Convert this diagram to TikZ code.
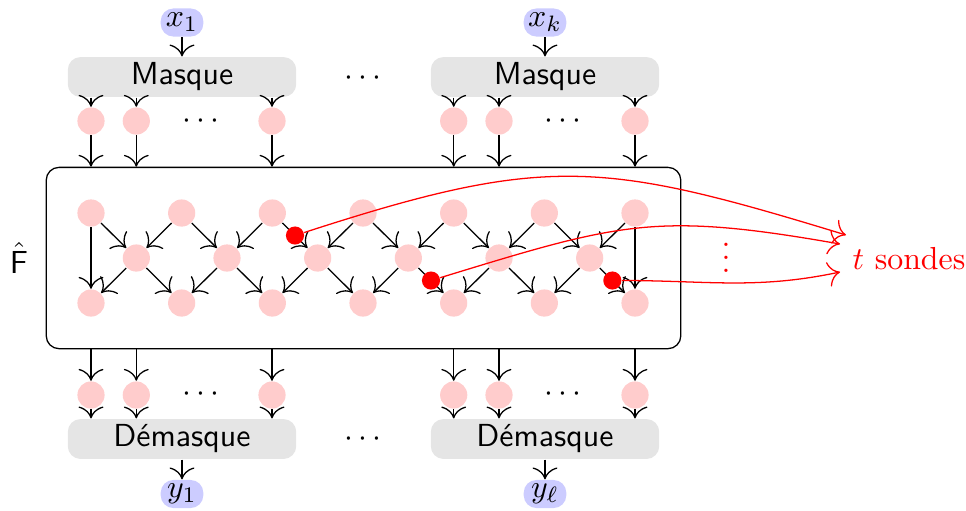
\documentclass[tikz,border=0pt]{standalone}
\usetikzlibrary{arrows.meta}
\begin{document}
\begin{tikzpicture}[x=0.011038cm, y=0.011038cm, >={To[scale=1.5]},
  pinkdot/.style={circle, fill=red!20, minimum size=3mm, inner sep=0pt},
  probedot/.style={circle, fill=red, minimum size=2mm, inner sep=0pt},
  gbox/.style={rectangle, rounded corners=4pt, fill=gray!20, minimum width=2.52cm, minimum height=0.44cm, inner sep=0pt, font=\sffamily},
  vbox/.style={rectangle, rounded corners=4pt, fill=blue!20, minimum width=0.47cm, minimum height=0.31cm, inner sep=0pt},
  probearrow/.style={red, ->}]
\useasboundingbox (0,0) rectangle (966,510);

% main box
\node[draw, rounded corners=4pt, minimum width=7cm, minimum height=2cm, inner sep=0pt] (F) at (363.5,252) {};
\node (Fl) at (19,252) {$\hat{\mathsf{F}}$};

% inputs and masks
\node[vbox] (x1) at (182,487.5) {$x_1$};
\node[vbox] (xk) at (545,487.5) {$x_k$};
\node[gbox] (mk1) at (182,433) {Masque};
\node[gbox] (mk2) at (545,433) {Masque};
\node (mdots) at (363,432) {$\cdots$};
\draw[->] (x1) -- (mk1);
\draw[->] (xk) -- (mk2);

\foreach \n/\x in {a1/91, a2/136.3, a3/272, a4/453.7, a5/499, a6/635}
  \node[pinkdot] (\n) at (\x,389) {};
\node (adots1) at (201,389) {$\cdots$};
\node (adots2) at (563,389) {$\cdots$};
\foreach \n/\m in {a1/mk1, a2/mk1, a3/mk1, a4/mk2, a5/mk2, a6/mk2} {
  \draw[->] (\m.south -| \n) -- (\n);
  \draw[->] (\n) -- (\n |- F.north);
}

% grid
\foreach \i in {2,4,...,14} {
  \node[pinkdot] (t\i) at ({91+(\i-2)*45.333},297) {};
  \node[pinkdot] (b\i) at ({91+(\i-2)*45.333},207) {};
}
\foreach \i in {3,5,...,13}
  \node[pinkdot] (m\i) at ({91+(\i-2)*45.333},252) {};
\draw[->] (t2) -- (b2);
\draw[->] (t14) -- (b14);
\foreach \i in {3,5,...,13} {
  \pgfmathtruncatemacro\l{\i-1}
  \pgfmathtruncatemacro\r{\i+1}
  \draw[->] (t\l) -- (m\i);
  \draw[->] (t\r) -- (m\i);
  \draw[->] (m\i) -- (b\l);
  \draw[->] (m\i) -- (b\r);
}

% outputs
\foreach \n/\x in {c1/91, c2/136.3, c3/272, c4/453.7, c5/499, c6/635}
  \node[pinkdot] (\n) at (\x,115) {};
\node (cdots1) at (201,116) {$\cdots$};
\node (cdots2) at (563,116) {$\cdots$};
\node[gbox] (dm1) at (182,71) {Démasque};
\node[gbox] (dm2) at (545,71) {Démasque};
\node (ddots) at (363,71) {$\cdots$};
\foreach \n/\m in {c1/dm1, c2/dm1, c3/dm1, c4/dm2, c5/dm2, c6/dm2} {
  \draw[->] (\n |- F.south) -- (\n);
  \draw[->] (\n) -- (\n |- \m.north);
}
\node[vbox] (y1) at (182,16) {$y_1$};
\node[vbox] (yl) at (545,16) {$y_\ell$};
\draw[->] (dm1) -- (y1);
\draw[->] (dm2) -- (yl);

% probes
\path (t6) -- (m7) node[midway, probedot] (p1) {};
\path (m9) -- (b10) node[midway, probedot] (p2) {};
\path (m13) -- (b14) node[midway, probedot] (p3) {};
\node[red, anchor=base west, inner sep=0pt] (sondes) at (852,241) {$t$ sondes};
\node[red, inner sep=0pt] (vd) at (726,262) {$\vdots$};
\coordinate (e1) at (846,275);
\coordinate (e2) at (840,266);
\coordinate (e3) at (840,238);
\draw[probearrow] (p1) to[out=18, in=163, looseness=1.2] (e1);
\draw[probearrow] (p2) to[out=17, in=170, looseness=1.2] (e2);
\draw[probearrow] (p3) to[out=0, in=192] (e3);
\end{tikzpicture}
\end{document}
